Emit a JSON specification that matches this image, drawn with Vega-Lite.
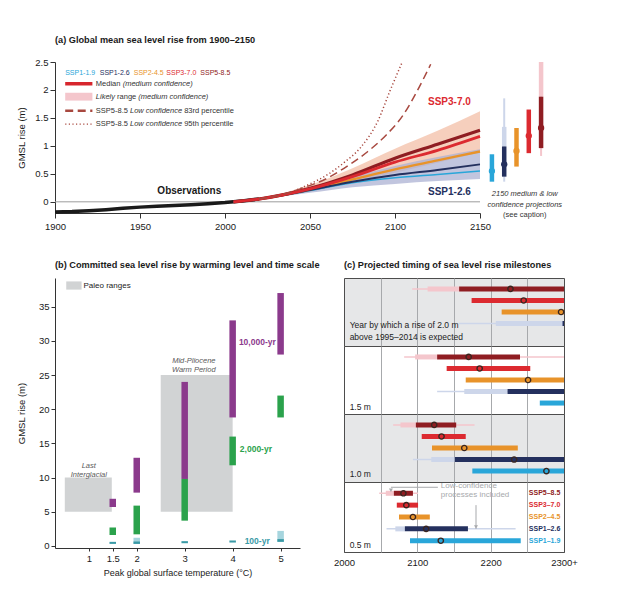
{
"$schema": "https://vega.github.io/schema/vega-lite/v6.json",
"background": "white",
"padding": {"left": 16, "top": 35, "right": 5, "bottom": 5},
"config": {
  "font": "Liberation Sans, Arial, sans-serif",
  "view": {"stroke": null},
  "title": {"fontSize": 9.2, "fontWeight": "bold", "anchor": "start", "color": "#1a1a1a", "frame": "group"},
  "axis": {"labelFontSize": 9.5, "titleFontSize": 9.5, "titleFontWeight": "normal", "labelColor": "#1a1a1a", "titleColor": "#1a1a1a", "domainColor": "#333333", "tickColor": "#333333", "grid": false, "labelFlush": false}
},
"datasets": {
  "obs": [
    {"year": 1900, "gmsl": -0.18}, {"year": 1910, "gmsl": -0.175}, {"year": 1920, "gmsl": -0.16},
    {"year": 1930, "gmsl": -0.14}, {"year": 1940, "gmsl": -0.115}, {"year": 1950, "gmsl": -0.095},
    {"year": 1960, "gmsl": -0.08}, {"year": 1970, "gmsl": -0.068}, {"year": 1980, "gmsl": -0.052},
    {"year": 1990, "gmsl": -0.035}, {"year": 2000, "gmsl": -0.014}, {"year": 2010, "gmsl": 0.015},
    {"year": 2020, "gmsl": 0.05}
  ],
  "medians": [
    {"scenario": "SSP1-1.9", "year": 2005, "gmsl": 0}, {"scenario": "SSP1-1.9", "year": 2020, "gmsl": 0.05}, {"scenario": "SSP1-1.9", "year": 2050, "gmsl": 0.2}, {"scenario": "SSP1-1.9", "year": 2075, "gmsl": 0.34}, {"scenario": "SSP1-1.9", "year": 2100, "gmsl": 0.43}, {"scenario": "SSP1-1.9", "year": 2125, "gmsl": 0.49}, {"scenario": "SSP1-1.9", "year": 2150, "gmsl": 0.55},
    {"scenario": "SSP2-4.5", "year": 2005, "gmsl": 0}, {"scenario": "SSP2-4.5", "year": 2020, "gmsl": 0.05}, {"scenario": "SSP2-4.5", "year": 2050, "gmsl": 0.22}, {"scenario": "SSP2-4.5", "year": 2075, "gmsl": 0.4}, {"scenario": "SSP2-4.5", "year": 2100, "gmsl": 0.58}, {"scenario": "SSP2-4.5", "year": 2125, "gmsl": 0.74}, {"scenario": "SSP2-4.5", "year": 2150, "gmsl": 0.9},
    {"scenario": "SSP5-8.5", "year": 2005, "gmsl": 0}, {"scenario": "SSP5-8.5", "year": 2020, "gmsl": 0.05}, {"scenario": "SSP5-8.5", "year": 2050, "gmsl": 0.24}, {"scenario": "SSP5-8.5", "year": 2075, "gmsl": 0.48}, {"scenario": "SSP5-8.5", "year": 2100, "gmsl": 0.78}, {"scenario": "SSP5-8.5", "year": 2125, "gmsl": 1.03}, {"scenario": "SSP5-8.5", "year": 2150, "gmsl": 1.28},
    {"scenario": "SSP1-2.6", "year": 2005, "gmsl": 0}, {"scenario": "SSP1-2.6", "year": 2020, "gmsl": 0.05}, {"scenario": "SSP1-2.6", "year": 2050, "gmsl": 0.21}, {"scenario": "SSP1-2.6", "year": 2075, "gmsl": 0.36}, {"scenario": "SSP1-2.6", "year": 2100, "gmsl": 0.48}, {"scenario": "SSP1-2.6", "year": 2125, "gmsl": 0.57}, {"scenario": "SSP1-2.6", "year": 2150, "gmsl": 0.67},
    {"scenario": "SSP3-7.0", "year": 2005, "gmsl": 0}, {"scenario": "SSP3-7.0", "year": 2020, "gmsl": 0.05}, {"scenario": "SSP3-7.0", "year": 2050, "gmsl": 0.23}, {"scenario": "SSP3-7.0", "year": 2075, "gmsl": 0.45}, {"scenario": "SSP3-7.0", "year": 2100, "gmsl": 0.71}, {"scenario": "SSP3-7.0", "year": 2125, "gmsl": 0.92}, {"scenario": "SSP3-7.0", "year": 2150, "gmsl": 1.17}
  ],
  "bands": [
    {"band": "high", "year": 2005, "gmsl": 0, "gmsl2": 0}, {"band": "high", "year": 2020, "gmsl": 0.045, "gmsl2": 0.06}, {"band": "high", "year": 2050, "gmsl": 0.18, "gmsl2": 0.3}, {"band": "high", "year": 2075, "gmsl": 0.36, "gmsl2": 0.6}, {"band": "high", "year": 2100, "gmsl": 0.52, "gmsl2": 0.95}, {"band": "high", "year": 2125, "gmsl": 0.7, "gmsl2": 1.27}, {"band": "high", "year": 2150, "gmsl": 0.88, "gmsl2": 1.62},
    {"band": "low", "year": 2005, "gmsl": 0, "gmsl2": 0}, {"band": "low", "year": 2020, "gmsl": 0.045, "gmsl2": 0.065}, {"band": "low", "year": 2050, "gmsl": 0.16, "gmsl2": 0.26}, {"band": "low", "year": 2075, "gmsl": 0.26, "gmsl2": 0.45}, {"band": "low", "year": 2100, "gmsl": 0.32, "gmsl2": 0.64}, {"band": "low", "year": 2125, "gmsl": 0.37, "gmsl2": 0.8}, {"band": "low", "year": 2150, "gmsl": 0.41, "gmsl2": 0.94}
  ],
  "lowconf": [
    {"pct": "83rd", "year": 2020, "gmsl": 0.05}, {"pct": "83rd", "year": 2036, "gmsl": 0.15}, {"pct": "83rd", "year": 2046, "gmsl": 0.25}, {"pct": "83rd", "year": 2060, "gmsl": 0.42}, {"pct": "83rd", "year": 2070, "gmsl": 0.6}, {"pct": "83rd", "year": 2084, "gmsl": 0.9}, {"pct": "83rd", "year": 2095, "gmsl": 1.2}, {"pct": "83rd", "year": 2105, "gmsl": 1.56}, {"pct": "83rd", "year": 2113, "gmsl": 1.98}, {"pct": "83rd", "year": 2121, "gmsl": 2.46},
    {"pct": "95th", "year": 2020, "gmsl": 0.05}, {"pct": "95th", "year": 2030, "gmsl": 0.1}, {"pct": "95th", "year": 2040, "gmsl": 0.19}, {"pct": "95th", "year": 2050, "gmsl": 0.32}, {"pct": "95th", "year": 2060, "gmsl": 0.48}, {"pct": "95th", "year": 2070, "gmsl": 0.7}, {"pct": "95th", "year": 2080, "gmsl": 0.98}, {"pct": "95th", "year": 2090, "gmsl": 1.45}, {"pct": "95th", "year": 2097, "gmsl": 1.98}, {"pct": "95th", "year": 2104, "gmsl": 2.48}
  ],
  "proj2150": [
    {"scenario": "SSP1-1.9", "lo": 0.36, "hi": 0.85, "med": 0.55},
    {"scenario": "SSP1-2.6", "t_lo": 0.36, "t_hi": 1.85, "l_lo": 0.99, "l_hi": 1.34, "lo": 0.45, "hi": 0.99, "med": 0.67},
    {"scenario": "SSP2-4.5", "lo": 0.63, "hi": 1.32, "med": 0.91},
    {"scenario": "SSP3-7.0", "lo": 0.87, "hi": 1.65, "med": 1.18},
    {"scenario": "SSP5-8.5", "t_lo": 0.82, "t_hi": 2.5, "l_lo": 1.88, "l_hi": 2.5, "lo": 0.96, "hi": 1.88, "med": 1.32}
  ],
  "committed": [
    {"temp": 2, "timescale": "100-yr low", "gmsl": 0.3, "gmsl2": 1.2},
    {"temp": 5, "timescale": "100-yr low", "gmsl": 0.6, "gmsl2": 2.2},
    {"temp": 1.5, "timescale": "10,000-yr", "gmsl": 5.7, "gmsl2": 6.9},
    {"temp": 2, "timescale": "10,000-yr", "gmsl": 7.8, "gmsl2": 12.9},
    {"temp": 3, "timescale": "10,000-yr", "gmsl": 9.8, "gmsl2": 24},
    {"temp": 4, "timescale": "10,000-yr", "gmsl": 18.8, "gmsl2": 33},
    {"temp": 5, "timescale": "10,000-yr", "gmsl": 28, "gmsl2": 37},
    {"temp": 1.5, "timescale": "2,000-yr", "gmsl": 1.6, "gmsl2": 2.7},
    {"temp": 2, "timescale": "2,000-yr", "gmsl": 1.7, "gmsl2": 5.9},
    {"temp": 3, "timescale": "2,000-yr", "gmsl": 3.7, "gmsl2": 9.8},
    {"temp": 4, "timescale": "2,000-yr", "gmsl": 11.8, "gmsl2": 16},
    {"temp": 5, "timescale": "2,000-yr", "gmsl": 18.8, "gmsl2": 22},
    {"temp": 1.5, "timescale": "100-yr", "gmsl": 0.3, "gmsl2": 0.6},
    {"temp": 2, "timescale": "100-yr", "gmsl": 0.3, "gmsl2": 0.65},
    {"temp": 3, "timescale": "100-yr", "gmsl": 0.4, "gmsl2": 0.7},
    {"temp": 4, "timescale": "100-yr", "gmsl": 0.5, "gmsl2": 0.8},
    {"temp": 5, "timescale": "100-yr", "gmsl": 0.6, "gmsl2": 1.0}
  ],
  "timing": [
    {"level": "2.0 m", "scenario": "SSP5-8.5", "t_lo": 2093, "t_hi": 2300, "l_lo": 2114, "l_hi": 2157, "lo": 2157, "hi": 2300, "med": 2227},
    {"level": "2.0 m", "scenario": "SSP3-7.0", "lo": 2174, "hi": 2300, "med": 2245},
    {"level": "2.0 m", "scenario": "SSP2-4.5", "lo": 2215, "hi": 2300, "med": 2296},
    {"level": "2.0 m", "scenario": "SSP1-2.6", "t_lo": 2157, "t_hi": 2300, "l_lo": 2207, "l_hi": 2300, "lo": 2298, "hi": 2300},
    {"level": "1.5 m", "scenario": "SSP5-8.5", "t_lo": 2082, "t_hi": 2300, "l_lo": 2097, "l_hi": 2127, "lo": 2127, "hi": 2240, "med": 2170},
    {"level": "1.5 m", "scenario": "SSP3-7.0", "lo": 2140, "hi": 2254, "med": 2185},
    {"level": "1.5 m", "scenario": "SSP2-4.5", "lo": 2166, "hi": 2300, "med": 2251},
    {"level": "1.5 m", "scenario": "SSP1-2.6", "t_lo": 2127, "t_hi": 2300, "l_lo": 2164, "l_hi": 2223, "lo": 2223, "hi": 2300},
    {"level": "1.5 m", "scenario": "SSP1-1.9", "lo": 2267, "hi": 2300},
    {"level": "1.0 m", "scenario": "SSP5-8.5", "t_lo": 2067, "t_hi": 2178, "l_lo": 2077, "l_hi": 2098, "lo": 2098, "hi": 2153, "med": 2123},
    {"level": "1.0 m", "scenario": "SSP3-7.0", "lo": 2106, "hi": 2166, "med": 2133},
    {"level": "1.0 m", "scenario": "SSP2-4.5", "lo": 2120, "hi": 2237, "med": 2164},
    {"level": "1.0 m", "scenario": "SSP1-2.6", "t_lo": 2094, "t_hi": 2151, "l_lo": 2119, "l_hi": 2151, "lo": 2151, "hi": 2300, "med": 2232},
    {"level": "1.0 m", "scenario": "SSP1-1.9", "lo": 2175, "hi": 2300, "med": 2276},
    {"level": "0.5 m", "scenario": "SSP5-8.5", "t_lo": 2048, "t_hi": 2101, "l_lo": 2057, "l_hi": 2068, "lo": 2068, "hi": 2094, "med": 2081},
    {"level": "0.5 m", "scenario": "SSP3-7.0", "lo": 2072, "hi": 2101, "med": 2085},
    {"level": "0.5 m", "scenario": "SSP2-4.5", "lo": 2075, "hi": 2117, "med": 2094},
    {"level": "0.5 m", "scenario": "SSP1-2.6", "t_lo": 2058, "t_hi": 2234, "l_lo": 2070, "l_hi": 2083, "lo": 2083, "hi": 2169, "med": 2112},
    {"level": "0.5 m", "scenario": "SSP1-1.9", "lo": 2090, "hi": 2241, "med": 2132}
  ]
},
"vconcat": [
  {
    "hconcat": [
      {
        "width": 425, "height": 151,
        "title": {"text": "(a) Global mean sea level rise from 1900–2150", "offset": 12},
        "resolve": {"scale": {"color": "independent", "strokeDash": "independent", "strokeWidth": "independent"}},
        "layer": [
          {
            "data": {"values": [{"year": 1900, "year2": 2150, "gmsl": 0}]},
            "mark": {"type": "rule", "color": "#9d9d9d", "strokeWidth": 1},
            "encoding": {
              "x": {"field": "year", "type": "quantitative", "scale": {"domain": [1900, 2150], "nice": false, "zero": false}, "axis": {"values": [1900, 1950, 2000, 2050, 2100, 2150], "tickCount": 20, "format": "d", "title": null, "tickSize": 5, "labelPadding": 3}},
              "x2": {"field": "year2"},
              "y": {"field": "gmsl", "type": "quantitative", "scale": {"domain": [-0.2, 2.5], "nice": false, "zero": false}, "axis": {"values": [0, 0.5, 1, 1.5, 2, 2.5], "tickCount": 20, "format": ".1~f", "title": "GMSL rise (m)", "titlePadding": 8, "tickSize": 5}}
            }
          },
          {
            "data": {"name": "bands"},
            "mark": {"type": "area", "interpolate": "monotone", "opacity": 0.72},
            "encoding": {
              "x": {"field": "year", "type": "quantitative"},
              "y": {"field": "gmsl", "type": "quantitative"},
              "y2": {"field": "gmsl2"},
              "color": {"field": "band", "type": "nominal", "scale": {"domain": ["high", "low"], "range": ["#f2bca4", "#a9aed1"]}, "legend": null}
            }
          },
          {
            "data": {"name": "obs"},
            "mark": {"type": "line", "color": "#1a1a1a", "strokeWidth": 3.5},
            "encoding": {
              "x": {"field": "year", "type": "quantitative"},
              "y": {"field": "gmsl", "type": "quantitative"}
            }
          },
          {
            "data": {"name": "medians"},
            "mark": {"type": "line", "interpolate": "monotone"},
            "encoding": {
              "x": {"field": "year", "type": "quantitative"},
              "y": {"field": "gmsl", "type": "quantitative"},
              "color": {"field": "scenario", "type": "nominal", "scale": {"domain": ["SSP1-1.9", "SSP1-2.6", "SSP2-4.5", "SSP3-7.0", "SSP5-8.5"], "range": ["#29a6d9", "#24305e", "#e8932a", "#dc2a30", "#8f1d22"]}, "legend": null},
              "strokeWidth": {"field": "scenario", "type": "nominal", "scale": {"domain": ["SSP1-1.9", "SSP1-2.6", "SSP2-4.5", "SSP3-7.0", "SSP5-8.5"], "range": [1.5, 3.2, 1.6, 3.2, 1.6]}, "legend": null}
            }
          },
          {
            "data": {"name": "lowconf"},
            "mark": {"type": "line", "interpolate": "monotone", "color": "#a8483f", "strokeWidth": 1.5, "clip": true},
            "encoding": {
              "x": {"field": "year", "type": "quantitative"},
              "y": {"field": "gmsl", "type": "quantitative"},
              "strokeDash": {"field": "pct", "type": "nominal", "scale": {"domain": ["83rd", "95th"], "range": [[8, 4.5], [1.2, 2.4]]}, "legend": null}
            }
          },
          {
            "data": {"values": [{"year": 1906, "year2": 1922, "gmsl": 1.81, "gmsl2": 1.95}]},
            "mark": {"type": "rect", "color": "#f4c6cc"},
            "encoding": {
              "x": {"field": "year", "type": "quantitative"},
              "x2": {"field": "year2"},
              "y": {"field": "gmsl", "type": "quantitative"},
              "y2": {"field": "gmsl2"}
            }
          },
          {
            "data": {"values": [
              {"year": 1906, "year2": 1922, "gmsl": 2.11, "item": "median"},
              {"year": 1906, "year2": 1922, "gmsl": 1.63, "item": "83rd"},
              {"year": 1906, "year2": 1922, "gmsl": 1.39, "item": "95th"}
            ]},
            "mark": {"type": "rule"},
            "encoding": {
              "x": {"field": "year", "type": "quantitative"},
              "x2": {"field": "year2"},
              "y": {"field": "gmsl", "type": "quantitative"},
              "color": {"field": "item", "type": "nominal", "scale": {"domain": ["median", "83rd", "95th"], "range": ["#d7262d", "#a8483f", "#a8483f"]}, "legend": null},
              "strokeWidth": {"field": "item", "type": "nominal", "scale": {"domain": ["median", "83rd", "95th"], "range": [3.5, 1.4, 1.4]}, "legend": null},
              "strokeDash": {"field": "item", "type": "nominal", "scale": {"domain": ["median", "83rd", "95th"], "range": [[1, 0], [8, 4.5], [1.2, 2.4]]}, "legend": null}
            }
          },
          {
            "data": {"values": [
              {"year": 1924, "gmsl": 2.11, "label": "Median"},
              {"year": 1936.5, "gmsl": 1.88, "label": "range"},
              {"year": 1924, "gmsl": 1.63, "label": "SSP5-8.5"},
              {"year": 1976, "gmsl": 1.63, "label": "83rd percentile"},
              {"year": 1924, "gmsl": 1.39, "label": "SSP5-8.5"},
              {"year": 1976, "gmsl": 1.39, "label": "95th percentile"}
            ]},
            "mark": {"type": "text", "align": "left", "baseline": "middle", "fontSize": 7.5, "color": "#333333"},
            "encoding": {
              "x": {"field": "year", "type": "quantitative"},
              "y": {"field": "gmsl", "type": "quantitative"},
              "text": {"field": "label"}
            }
          },
          {
            "data": {"values": [
              {"year": 1939.8, "gmsl": 2.11, "label": "(medium confidence)"},
              {"year": 1924, "gmsl": 1.88, "label": "Likely"},
              {"year": 1949, "gmsl": 1.88, "label": "(medium confidence)"},
              {"year": 1944.1, "gmsl": 1.63, "label": "Low confidence"},
              {"year": 1944.1, "gmsl": 1.39, "label": "Low confidence"}
            ]},
            "mark": {"type": "text", "align": "left", "baseline": "middle", "fontSize": 7.5, "fontStyle": "italic", "color": "#333333"},
            "encoding": {
              "x": {"field": "year", "type": "quantitative"},
              "y": {"field": "gmsl", "type": "quantitative"},
              "text": {"field": "label"}
            }
          },
          {
            "data": {"values": [
              {"year": 1906, "gmsl": 2.3, "scenario": "SSP1-1.9"},
              {"year": 1926.3, "gmsl": 2.3, "scenario": "SSP1-2.6"},
              {"year": 1946.3, "gmsl": 2.3, "scenario": "SSP2-4.5"},
              {"year": 1965.5, "gmsl": 2.3, "scenario": "SSP3-7.0"},
              {"year": 1985.5, "gmsl": 2.3, "scenario": "SSP5-8.5"}
            ]},
            "mark": {"type": "text", "align": "left", "baseline": "middle", "fontSize": 7},
            "encoding": {
              "x": {"field": "year", "type": "quantitative"},
              "y": {"field": "gmsl", "type": "quantitative"},
              "text": {"field": "scenario"},
              "color": {"field": "scenario", "type": "nominal", "scale": {"domain": ["SSP1-1.9", "SSP1-2.6", "SSP2-4.5", "SSP3-7.0", "SSP5-8.5"], "range": ["#29a6d9", "#24305e", "#e8932a", "#dc2a30", "#8f1d22"]}, "legend": null}
            }
          },
          {
            "data": {"values": [
              {"year": 1979, "gmsl": 0.19, "label": "Observations", "kind": "obs"},
              {"year": 2132, "gmsl": 1.79, "label": "SSP3-7.0", "kind": "high"},
              {"year": 2132, "gmsl": 0.18, "label": "SSP1-2.6", "kind": "low"}
            ]},
            "mark": {"type": "text", "align": "center", "baseline": "middle", "fontSize": 10, "fontWeight": "bold"},
            "encoding": {
              "x": {"field": "year", "type": "quantitative"},
              "y": {"field": "gmsl", "type": "quantitative"},
              "text": {"field": "label"},
              "color": {"field": "kind", "type": "nominal", "scale": {"domain": ["obs", "high", "low"], "range": ["#1a1a1a", "#dc2a30", "#24305e"]}, "legend": null}
            }
          }
        ]
      },
      {
        "width": 73, "height": 151,
        "data": {"name": "proj2150"},
        "resolve": {"scale": {"color": "independent"}},
        "encoding": {
          "x": {"field": "scenario", "type": "nominal", "scale": {"type": "point", "domain": ["SSP1-1.9", "SSP1-2.6", "SSP2-4.5", "SSP3-7.0", "SSP5-8.5"], "padding": 0.97}, "axis": null}
        },
        "layer": [
          {
            "transform": [{"filter": "isValid(datum.t_lo)"}],
            "mark": {"type": "rule", "strokeWidth": 2},
            "encoding": {
              "y": {"field": "t_lo", "type": "quantitative", "scale": {"domain": [-0.2, 2.5], "nice": false, "zero": false}, "axis": null},
              "y2": {"field": "t_hi"},
              "color": {"field": "scenario", "type": "nominal", "scale": {"domain": ["SSP1-2.6", "SSP5-8.5"], "range": ["#cdd6ea", "#f4c6cc"]}, "legend": null}
            }
          },
          {
            "transform": [{"filter": "isValid(datum.l_lo)"}],
            "mark": {"type": "rule", "strokeWidth": 4.5},
            "encoding": {
              "y": {"field": "l_lo", "type": "quantitative", "axis": null},
              "y2": {"field": "l_hi"},
              "color": {"field": "scenario", "type": "nominal", "scale": {"domain": ["SSP1-2.6", "SSP5-8.5"], "range": ["#cdd6ea", "#f4c6cc"]}, "legend": null}
            }
          },
          {
            "mark": {"type": "rule", "strokeWidth": 4.5},
            "encoding": {
              "y": {"field": "lo", "type": "quantitative", "axis": null},
              "y2": {"field": "hi"},
              "color": {"field": "scenario", "type": "nominal", "scale": {"domain": ["SSP1-1.9", "SSP1-2.6", "SSP2-4.5", "SSP3-7.0", "SSP5-8.5"], "range": ["#29a6d9", "#24305e", "#e8932a", "#dc2a30", "#8f1d22"]}, "legend": null}
            }
          },
          {
            "mark": {"type": "point", "shape": "circle", "filled": true, "size": 40, "opacity": 1},
            "encoding": {
              "y": {"field": "med", "type": "quantitative", "axis": null},
              "color": {"field": "scenario", "type": "nominal", "scale": {"domain": ["SSP1-1.9", "SSP1-2.6", "SSP2-4.5", "SSP3-7.0", "SSP5-8.5"], "range": ["#29a6d9", "#24305e", "#e8932a", "#dc2a30", "#8f1d22"]}, "legend": null}
            }
          },
          {
            "data": {"values": [
              {"scenario": "SSP3-7.0", "gmsl": 0.14, "label": "2150 medium & low"},
              {"scenario": "SSP3-7.0", "gmsl": -0.054, "label": "confidence projections"}
            ]},
            "mark": {"type": "text", "align": "center", "baseline": "middle", "fontSize": 7.5, "fontStyle": "italic", "color": "#333333", "dx": -4},
            "encoding": {
              "y": {"field": "gmsl", "type": "quantitative", "axis": null},
              "text": {"field": "label"}
            }
          },
          {
            "data": {"values": [
              {"scenario": "SSP3-7.0", "gmsl": -0.23, "label": "(see caption)"}
            ]},
            "mark": {"type": "text", "align": "center", "baseline": "middle", "fontSize": 7.5, "color": "#333333", "dx": -4},
            "encoding": {
              "y": {"field": "gmsl", "type": "quantitative", "axis": null},
              "text": {"field": "label"}
            }
          }
        ]
      }
    ],
    "spacing": 0,
    "bounds": "flush"
  },
  {
    "hconcat": [
      {
        "width": 245, "height": 270,
        "title": {"text": "(b) Committed sea level rise by warming level and time scale", "offset": 8},
        "resolve": {"scale": {"color": "independent"}},
        "layer": [
          {
            "data": {"values": [
              {"temp": 0.5, "temp2": 1.48, "gmsl": 5, "gmsl2": 10},
              {"temp": 2.5, "temp2": 4.0, "gmsl": 5, "gmsl2": 25},
              {"temp": 0.53, "temp2": 0.85, "gmsl": 37.5, "gmsl2": 38.7}
            ]},
            "mark": {"type": "rect", "color": "#d1d3d4"},
            "encoding": {
              "x": {"field": "temp", "type": "quantitative", "scale": {"domain": [0.4, 5.3], "nice": false, "zero": false}, "axis": {"values": [1, 1.5, 2, 3, 4, 5], "tickCount": 20, "format": ".1~f", "title": "Peak global surface temperature (°C)", "titleFontSize": 9, "tickSize": 3, "titlePadding": 6}},
              "x2": {"field": "temp2"},
              "y": {"field": "gmsl", "type": "quantitative", "scale": {"domain": [-0.3, 39.2], "nice": false, "zero": false}, "axis": {"values": [0, 5, 10, 15, 20, 25, 30, 35], "tickCount": 20, "format": "d", "title": "GMSL rise (m)", "titlePadding": 12, "tickSize": 4}},
              "y2": {"field": "gmsl2"}
            }
          },
          {
            "data": {"name": "committed"},
            "mark": {"type": "bar", "width": 6.5},
            "encoding": {
              "x": {"field": "temp", "type": "quantitative"},
              "y": {"field": "gmsl", "type": "quantitative"},
              "y2": {"field": "gmsl2"},
              "color": {"field": "timescale", "type": "nominal", "scale": {"domain": ["10,000-yr", "2,000-yr", "100-yr", "100-yr low"], "range": ["#8b3a8c", "#2ba24c", "#3a9aa6", "#a6d5de"]}, "legend": null}
            }
          },
          {
            "data": {"values": [
              {"temp": 4.13, "gmsl": 29.9, "label": "10,000-yr"},
              {"temp": 4.15, "gmsl": 14.2, "label": "2,000-yr"},
              {"temp": 4.25, "gmsl": 0.7, "label": "100-yr"}
            ]},
            "mark": {"type": "text", "align": "left", "baseline": "middle", "fontSize": 8.5, "fontWeight": "bold"},
            "encoding": {
              "x": {"field": "temp", "type": "quantitative"},
              "y": {"field": "gmsl", "type": "quantitative"},
              "text": {"field": "label"},
              "color": {"field": "label", "type": "nominal", "scale": {"domain": ["10,000-yr", "2,000-yr", "100-yr"], "range": ["#8b3a8c", "#2ba24c", "#3a9aa6"]}, "legend": null}
            }
          },
          {
            "data": {"values": [
              {"temp": 1.0, "gmsl": 11.7, "label": "Last"},
              {"temp": 1.0, "gmsl": 10.4, "label": "Interglacial"},
              {"temp": 3.19, "gmsl": 27.0, "label": "Mid-Pliocene"},
              {"temp": 3.19, "gmsl": 25.75, "label": "Warm Period"}
            ]},
            "mark": {"type": "text", "align": "center", "baseline": "middle", "fontSize": 7.5, "fontStyle": "italic", "color": "#595959"},
            "encoding": {
              "x": {"field": "temp", "type": "quantitative"},
              "y": {"field": "gmsl", "type": "quantitative"},
              "text": {"field": "label"}
            }
          },
          {
            "data": {"values": [{"temp": 0.89, "gmsl": 38.1, "label": "Paleo ranges"}]},
            "mark": {"type": "text", "align": "left", "baseline": "middle", "fontSize": 8, "color": "#222222"},
            "encoding": {
              "x": {"field": "temp", "type": "quantitative"},
              "y": {"field": "gmsl", "type": "quantitative"},
              "text": {"field": "label"}
            }
          }
        ]
      },
      {
        "vconcat": [
          {
            "width": 220, "height": 68,
            "title": {"text": "(c) Projected timing of sea level rise milestones", "offset": 8},
            "view": {"fill": "#e6e7e8", "stroke": "#4d4d4d", "strokeWidth": 1},
            "data": {"name": "timing"},
            "transform": [{"filter": "datum.level == '2.0 m'"}],
            "resolve": {"scale": {"color": "independent"}},
            "layer": [
              {"transform": [{"filter": "isValid(datum.t_lo)"}], "mark": {"type": "rule", "strokeWidth": 1.5}, "encoding": {"x": {"field": "t_lo", "type": "quantitative", "scale": {"domain": [2000, 2300], "nice": false, "zero": false}, "axis": {"values": [2050, 2100, 2150, 2200, 2250], "tickCount": 20, "grid": true, "gridColor": "#a7a9ac", "labels": false, "ticks": false, "domain": false, "title": null}}, "x2": {"field": "t_hi"}, "y": {"field": "scenario", "type": "nominal", "scale": {"type": "point", "domain": ["SSP5-8.5", "SSP3-7.0", "SSP2-4.5", "SSP1-2.6", "SSP1-1.9"], "padding": 0.95}, "axis": null}, "color": {"field": "scenario", "type": "nominal", "scale": {"domain": ["SSP5-8.5", "SSP1-2.6"], "range": ["#f4c6cc", "#cdd6ea"]}, "legend": null}}},
              {"transform": [{"filter": "isValid(datum.l_lo)"}], "mark": {"type": "rule", "strokeWidth": 5}, "encoding": {"x": {"field": "l_lo", "type": "quantitative", "axis": {"title": null}}, "x2": {"field": "l_hi"}, "y": {"field": "scenario", "type": "nominal"}, "color": {"field": "scenario", "type": "nominal", "scale": {"domain": ["SSP5-8.5", "SSP1-2.6"], "range": ["#f4c6cc", "#cdd6ea"]}, "legend": null}}},
              {"mark": {"type": "rule", "strokeWidth": 5}, "encoding": {"x": {"field": "lo", "type": "quantitative", "axis": {"title": null}}, "x2": {"field": "hi"}, "y": {"field": "scenario", "type": "nominal"}, "color": {"field": "scenario", "type": "nominal", "scale": {"domain": ["SSP5-8.5", "SSP3-7.0", "SSP2-4.5", "SSP1-2.6", "SSP1-1.9"], "range": ["#8f1d22", "#dc2a30", "#e8932a", "#24305e", "#29a6d9"]}, "legend": null}}},
              {"transform": [{"filter": "isValid(datum.med)"}], "mark": {"type": "point", "shape": "circle", "filled": false, "size": 28, "strokeWidth": 1.4, "color": "#3a2620", "opacity": 1}, "encoding": {"x": {"field": "med", "type": "quantitative", "axis": {"title": null}}, "y": {"field": "scenario", "type": "nominal"}}},
              {"data": {"values": [{"year": 2007.7, "scenario": "SSP1-2.6", "label": "Year by which a rise of 2.0 m"}, {"year": 2007.7, "scenario": "SSP1-1.9", "label": "above 1995–2014 is expected"}]}, "mark": {"type": "text", "align": "left", "baseline": "middle", "fontSize": 8.5, "color": "#222222", "dy": 1.5}, "encoding": {"x": {"field": "year", "type": "quantitative", "axis": {"title": null}}, "y": {"field": "scenario", "type": "nominal"}, "text": {"field": "label"}}}
            ]
          },
          {
            "width": 220, "height": 68,
            "view": {"fill": "white", "stroke": "#4d4d4d", "strokeWidth": 1},
            "data": {"name": "timing"},
            "transform": [{"filter": "datum.level == '1.5 m'"}],
            "resolve": {"scale": {"color": "independent"}},
            "layer": [
              {"transform": [{"filter": "isValid(datum.t_lo)"}], "mark": {"type": "rule", "strokeWidth": 1.5}, "encoding": {"x": {"field": "t_lo", "type": "quantitative", "scale": {"domain": [2000, 2300], "nice": false, "zero": false}, "axis": {"values": [2050, 2100, 2150, 2200, 2250], "tickCount": 20, "grid": true, "gridColor": "#a7a9ac", "labels": false, "ticks": false, "domain": false, "title": null}}, "x2": {"field": "t_hi"}, "y": {"field": "scenario", "type": "nominal", "scale": {"type": "point", "domain": ["SSP5-8.5", "SSP3-7.0", "SSP2-4.5", "SSP1-2.6", "SSP1-1.9"], "padding": 0.95}, "axis": null}, "color": {"field": "scenario", "type": "nominal", "scale": {"domain": ["SSP5-8.5", "SSP1-2.6"], "range": ["#f4c6cc", "#cdd6ea"]}, "legend": null}}},
              {"transform": [{"filter": "isValid(datum.l_lo)"}], "mark": {"type": "rule", "strokeWidth": 5}, "encoding": {"x": {"field": "l_lo", "type": "quantitative", "axis": {"title": null}}, "x2": {"field": "l_hi"}, "y": {"field": "scenario", "type": "nominal"}, "color": {"field": "scenario", "type": "nominal", "scale": {"domain": ["SSP5-8.5", "SSP1-2.6"], "range": ["#f4c6cc", "#cdd6ea"]}, "legend": null}}},
              {"mark": {"type": "rule", "strokeWidth": 5}, "encoding": {"x": {"field": "lo", "type": "quantitative", "axis": {"title": null}}, "x2": {"field": "hi"}, "y": {"field": "scenario", "type": "nominal"}, "color": {"field": "scenario", "type": "nominal", "scale": {"domain": ["SSP5-8.5", "SSP3-7.0", "SSP2-4.5", "SSP1-2.6", "SSP1-1.9"], "range": ["#8f1d22", "#dc2a30", "#e8932a", "#24305e", "#29a6d9"]}, "legend": null}}},
              {"transform": [{"filter": "isValid(datum.med)"}], "mark": {"type": "point", "shape": "circle", "filled": false, "size": 28, "strokeWidth": 1.4, "color": "#3a2620", "opacity": 1}, "encoding": {"x": {"field": "med", "type": "quantitative", "axis": {"title": null}}, "y": {"field": "scenario", "type": "nominal"}}},
              {"data": {"values": [{"year": 2007.7, "scenario": "SSP1-1.9", "label": "1.5 m"}]}, "mark": {"type": "text", "align": "left", "baseline": "middle", "fontSize": 8.5, "color": "#222222", "dy": 3.5}, "encoding": {"x": {"field": "year", "type": "quantitative", "axis": {"title": null}}, "y": {"field": "scenario", "type": "nominal"}, "text": {"field": "label"}}}
            ]
          },
          {
            "width": 220, "height": 68,
            "view": {"fill": "#e6e7e8", "stroke": "#4d4d4d", "strokeWidth": 1},
            "data": {"name": "timing"},
            "transform": [{"filter": "datum.level == '1.0 m'"}],
            "resolve": {"scale": {"color": "independent"}},
            "layer": [
              {"transform": [{"filter": "isValid(datum.t_lo)"}], "mark": {"type": "rule", "strokeWidth": 1.5}, "encoding": {"x": {"field": "t_lo", "type": "quantitative", "scale": {"domain": [2000, 2300], "nice": false, "zero": false}, "axis": {"values": [2050, 2100, 2150, 2200, 2250], "tickCount": 20, "grid": true, "gridColor": "#a7a9ac", "labels": false, "ticks": false, "domain": false, "title": null}}, "x2": {"field": "t_hi"}, "y": {"field": "scenario", "type": "nominal", "scale": {"type": "point", "domain": ["SSP5-8.5", "SSP3-7.0", "SSP2-4.5", "SSP1-2.6", "SSP1-1.9"], "padding": 0.95}, "axis": null}, "color": {"field": "scenario", "type": "nominal", "scale": {"domain": ["SSP5-8.5", "SSP1-2.6"], "range": ["#f4c6cc", "#cdd6ea"]}, "legend": null}}},
              {"transform": [{"filter": "isValid(datum.l_lo)"}], "mark": {"type": "rule", "strokeWidth": 5}, "encoding": {"x": {"field": "l_lo", "type": "quantitative", "axis": {"title": null}}, "x2": {"field": "l_hi"}, "y": {"field": "scenario", "type": "nominal"}, "color": {"field": "scenario", "type": "nominal", "scale": {"domain": ["SSP5-8.5", "SSP1-2.6"], "range": ["#f4c6cc", "#cdd6ea"]}, "legend": null}}},
              {"mark": {"type": "rule", "strokeWidth": 5}, "encoding": {"x": {"field": "lo", "type": "quantitative", "axis": {"title": null}}, "x2": {"field": "hi"}, "y": {"field": "scenario", "type": "nominal"}, "color": {"field": "scenario", "type": "nominal", "scale": {"domain": ["SSP5-8.5", "SSP3-7.0", "SSP2-4.5", "SSP1-2.6", "SSP1-1.9"], "range": ["#8f1d22", "#dc2a30", "#e8932a", "#24305e", "#29a6d9"]}, "legend": null}}},
              {"transform": [{"filter": "isValid(datum.med)"}], "mark": {"type": "point", "shape": "circle", "filled": false, "size": 28, "strokeWidth": 1.4, "color": "#3a2620", "opacity": 1}, "encoding": {"x": {"field": "med", "type": "quantitative", "axis": {"title": null}}, "y": {"field": "scenario", "type": "nominal"}}},
              {"data": {"values": [{"year": 2007.7, "scenario": "SSP1-1.9", "label": "1.0 m"}]}, "mark": {"type": "text", "align": "left", "baseline": "middle", "fontSize": 8.5, "color": "#222222", "dy": 2.5}, "encoding": {"x": {"field": "year", "type": "quantitative", "axis": {"title": null}}, "y": {"field": "scenario", "type": "nominal"}, "text": {"field": "label"}}}
            ]
          },
          {
            "width": 220, "height": 70,
            "view": {"fill": "white", "stroke": "#4d4d4d", "strokeWidth": 1},
            "data": {"name": "timing"},
            "transform": [{"filter": "datum.level == '0.5 m'"}],
            "resolve": {"scale": {"color": "independent"}},
            "layer": [
              {"transform": [{"filter": "isValid(datum.t_lo)"}], "mark": {"type": "rule", "strokeWidth": 1.5}, "encoding": {"x": {"field": "t_lo", "type": "quantitative", "scale": {"domain": [2000, 2300], "nice": false, "zero": false}, "axis": {"values": [2000, 2050, 2100, 2150, 2200, 2250, 2300], "tickCount": 20, "format": "d", "grid": true, "gridColor": {"condition": {"test": "datum.value == 2000 || datum.value == 2300", "value": "#4d4d4d"}, "value": "#a7a9ac"}, "labelExpr": "datum.value % 100 == 0 ? (datum.value == 2300 ? '2300+' : datum.label) : ''", "ticks": false, "domain": false, "title": null, "labelPadding": 5}}, "x2": {"field": "t_hi"}, "y": {"field": "scenario", "type": "nominal", "scale": {"type": "point", "domain": ["SSP5-8.5", "SSP3-7.0", "SSP2-4.5", "SSP1-2.6", "SSP1-1.9"], "padding": 0.95}, "axis": null}, "color": {"field": "scenario", "type": "nominal", "scale": {"domain": ["SSP5-8.5", "SSP1-2.6"], "range": ["#f4c6cc", "#cdd6ea"]}, "legend": null}}},
              {"transform": [{"filter": "isValid(datum.l_lo)"}], "mark": {"type": "rule", "strokeWidth": 5}, "encoding": {"x": {"field": "l_lo", "type": "quantitative", "axis": {"title": null}}, "x2": {"field": "l_hi"}, "y": {"field": "scenario", "type": "nominal"}, "color": {"field": "scenario", "type": "nominal", "scale": {"domain": ["SSP5-8.5", "SSP1-2.6"], "range": ["#f4c6cc", "#cdd6ea"]}, "legend": null}}},
              {"mark": {"type": "rule", "strokeWidth": 5}, "encoding": {"x": {"field": "lo", "type": "quantitative", "axis": {"title": null}}, "x2": {"field": "hi"}, "y": {"field": "scenario", "type": "nominal"}, "color": {"field": "scenario", "type": "nominal", "scale": {"domain": ["SSP5-8.5", "SSP3-7.0", "SSP2-4.5", "SSP1-2.6", "SSP1-1.9"], "range": ["#8f1d22", "#dc2a30", "#e8932a", "#24305e", "#29a6d9"]}, "legend": null}}},
              {"transform": [{"filter": "isValid(datum.med)"}], "mark": {"type": "point", "shape": "circle", "filled": false, "size": 28, "strokeWidth": 1.4, "color": "#3a2620", "opacity": 1}, "encoding": {"x": {"field": "med", "type": "quantitative", "axis": {"title": null}}, "y": {"field": "scenario", "type": "nominal"}}},
              {"data": {"values": [{"year": 2007.7, "scenario": "SSP1-1.9", "label": "0.5 m"}]}, "mark": {"type": "text", "align": "left", "baseline": "middle", "fontSize": 8.5, "color": "#222222", "dy": 4}, "encoding": {"x": {"field": "year", "type": "quantitative", "axis": {"title": null}}, "y": {"field": "scenario", "type": "nominal"}, "text": {"field": "label"}}},
              {"data": {"values": [
                {"year": 2252, "scenario": "SSP5-8.5", "label": "SSP5–8.5"},
                {"year": 2252, "scenario": "SSP3-7.0", "label": "SSP3–7.0"},
                {"year": 2252, "scenario": "SSP2-4.5", "label": "SSP2–4.5"},
                {"year": 2252, "scenario": "SSP1-2.6", "label": "SSP1–2.6"},
                {"year": 2252, "scenario": "SSP1-1.9", "label": "SSP1–1.9"}
              ]}, "mark": {"type": "text", "align": "left", "baseline": "middle", "fontSize": 7, "fontWeight": "bold"}, "encoding": {"x": {"field": "year", "type": "quantitative", "axis": {"title": null}}, "y": {"field": "scenario", "type": "nominal"}, "text": {"field": "label"}, "color": {"field": "scenario", "type": "nominal", "scale": {"domain": ["SSP5-8.5", "SSP3-7.0", "SSP2-4.5", "SSP1-2.6", "SSP1-1.9"], "range": ["#8f1d22", "#dc2a30", "#e8932a", "#24305e", "#29a6d9"]}, "legend": null}}},
              {"data": {"values": [{"year": 2132, "scenario": "SSP5-8.5", "label": "Low-confidence"}]}, "mark": {"type": "text", "align": "left", "baseline": "middle", "fontSize": 8, "color": "#a7a9ac", "dy": -7.7}, "encoding": {"x": {"field": "year", "type": "quantitative", "axis": {"title": null}}, "y": {"field": "scenario", "type": "nominal"}, "text": {"field": "label"}}},
              {"data": {"values": [{"year": 2132, "scenario": "SSP5-8.5", "label": "processes included"}]}, "mark": {"type": "text", "align": "left", "baseline": "middle", "fontSize": 8, "color": "#a7a9ac", "dy": 1.6}, "encoding": {"x": {"field": "year", "type": "quantitative", "axis": {"title": null}}, "y": {"field": "scenario", "type": "nominal"}, "text": {"field": "label"}}},
              {"data": {"values": [{"year": 2064, "year2": 2128, "scenario": "SSP5-8.5"}]}, "mark": {"type": "rule", "color": "#a7a9ac", "strokeWidth": 1, "yOffset": -6}, "encoding": {"x": {"field": "year", "type": "quantitative", "axis": {"title": null}}, "x2": {"field": "year2"}, "y": {"field": "scenario", "type": "nominal"}}},
              {"data": {"values": [{"year": 2180, "scenario": "SSP3-7.0", "scenario2": "SSP1-2.6"}]}, "mark": {"type": "rule", "color": "#a7a9ac", "strokeWidth": 1}, "encoding": {"x": {"field": "year", "type": "quantitative", "axis": {"title": null}}, "y": {"field": "scenario", "type": "nominal"}, "y2": {"field": "scenario2"}}},
              {"data": {"values": [{"year": 2064, "scenario": "SSP5-8.5", "arrow": "a"}]}, "mark": {"type": "point", "shape": "triangle-down", "filled": true, "size": 16, "color": "#a7a9ac", "opacity": 1, "yOffset": -3}, "encoding": {"x": {"field": "year", "type": "quantitative", "axis": {"title": null}}, "y": {"field": "scenario", "type": "nominal"}}},
              {"data": {"values": [{"year": 2180, "scenario": "SSP1-2.6", "arrow": "b"}]}, "mark": {"type": "point", "shape": "triangle-down", "filled": true, "size": 16, "color": "#a7a9ac", "opacity": 1, "yOffset": -2}, "encoding": {"x": {"field": "year", "type": "quantitative", "axis": {"title": null}}, "y": {"field": "scenario", "type": "nominal"}}}
            ]
          }
        ],
        "spacing": 0,
        "bounds": "flush"
      }
    ],
    "spacing": 44,
    "bounds": "flush"
  }
],
"spacing": 29
}
